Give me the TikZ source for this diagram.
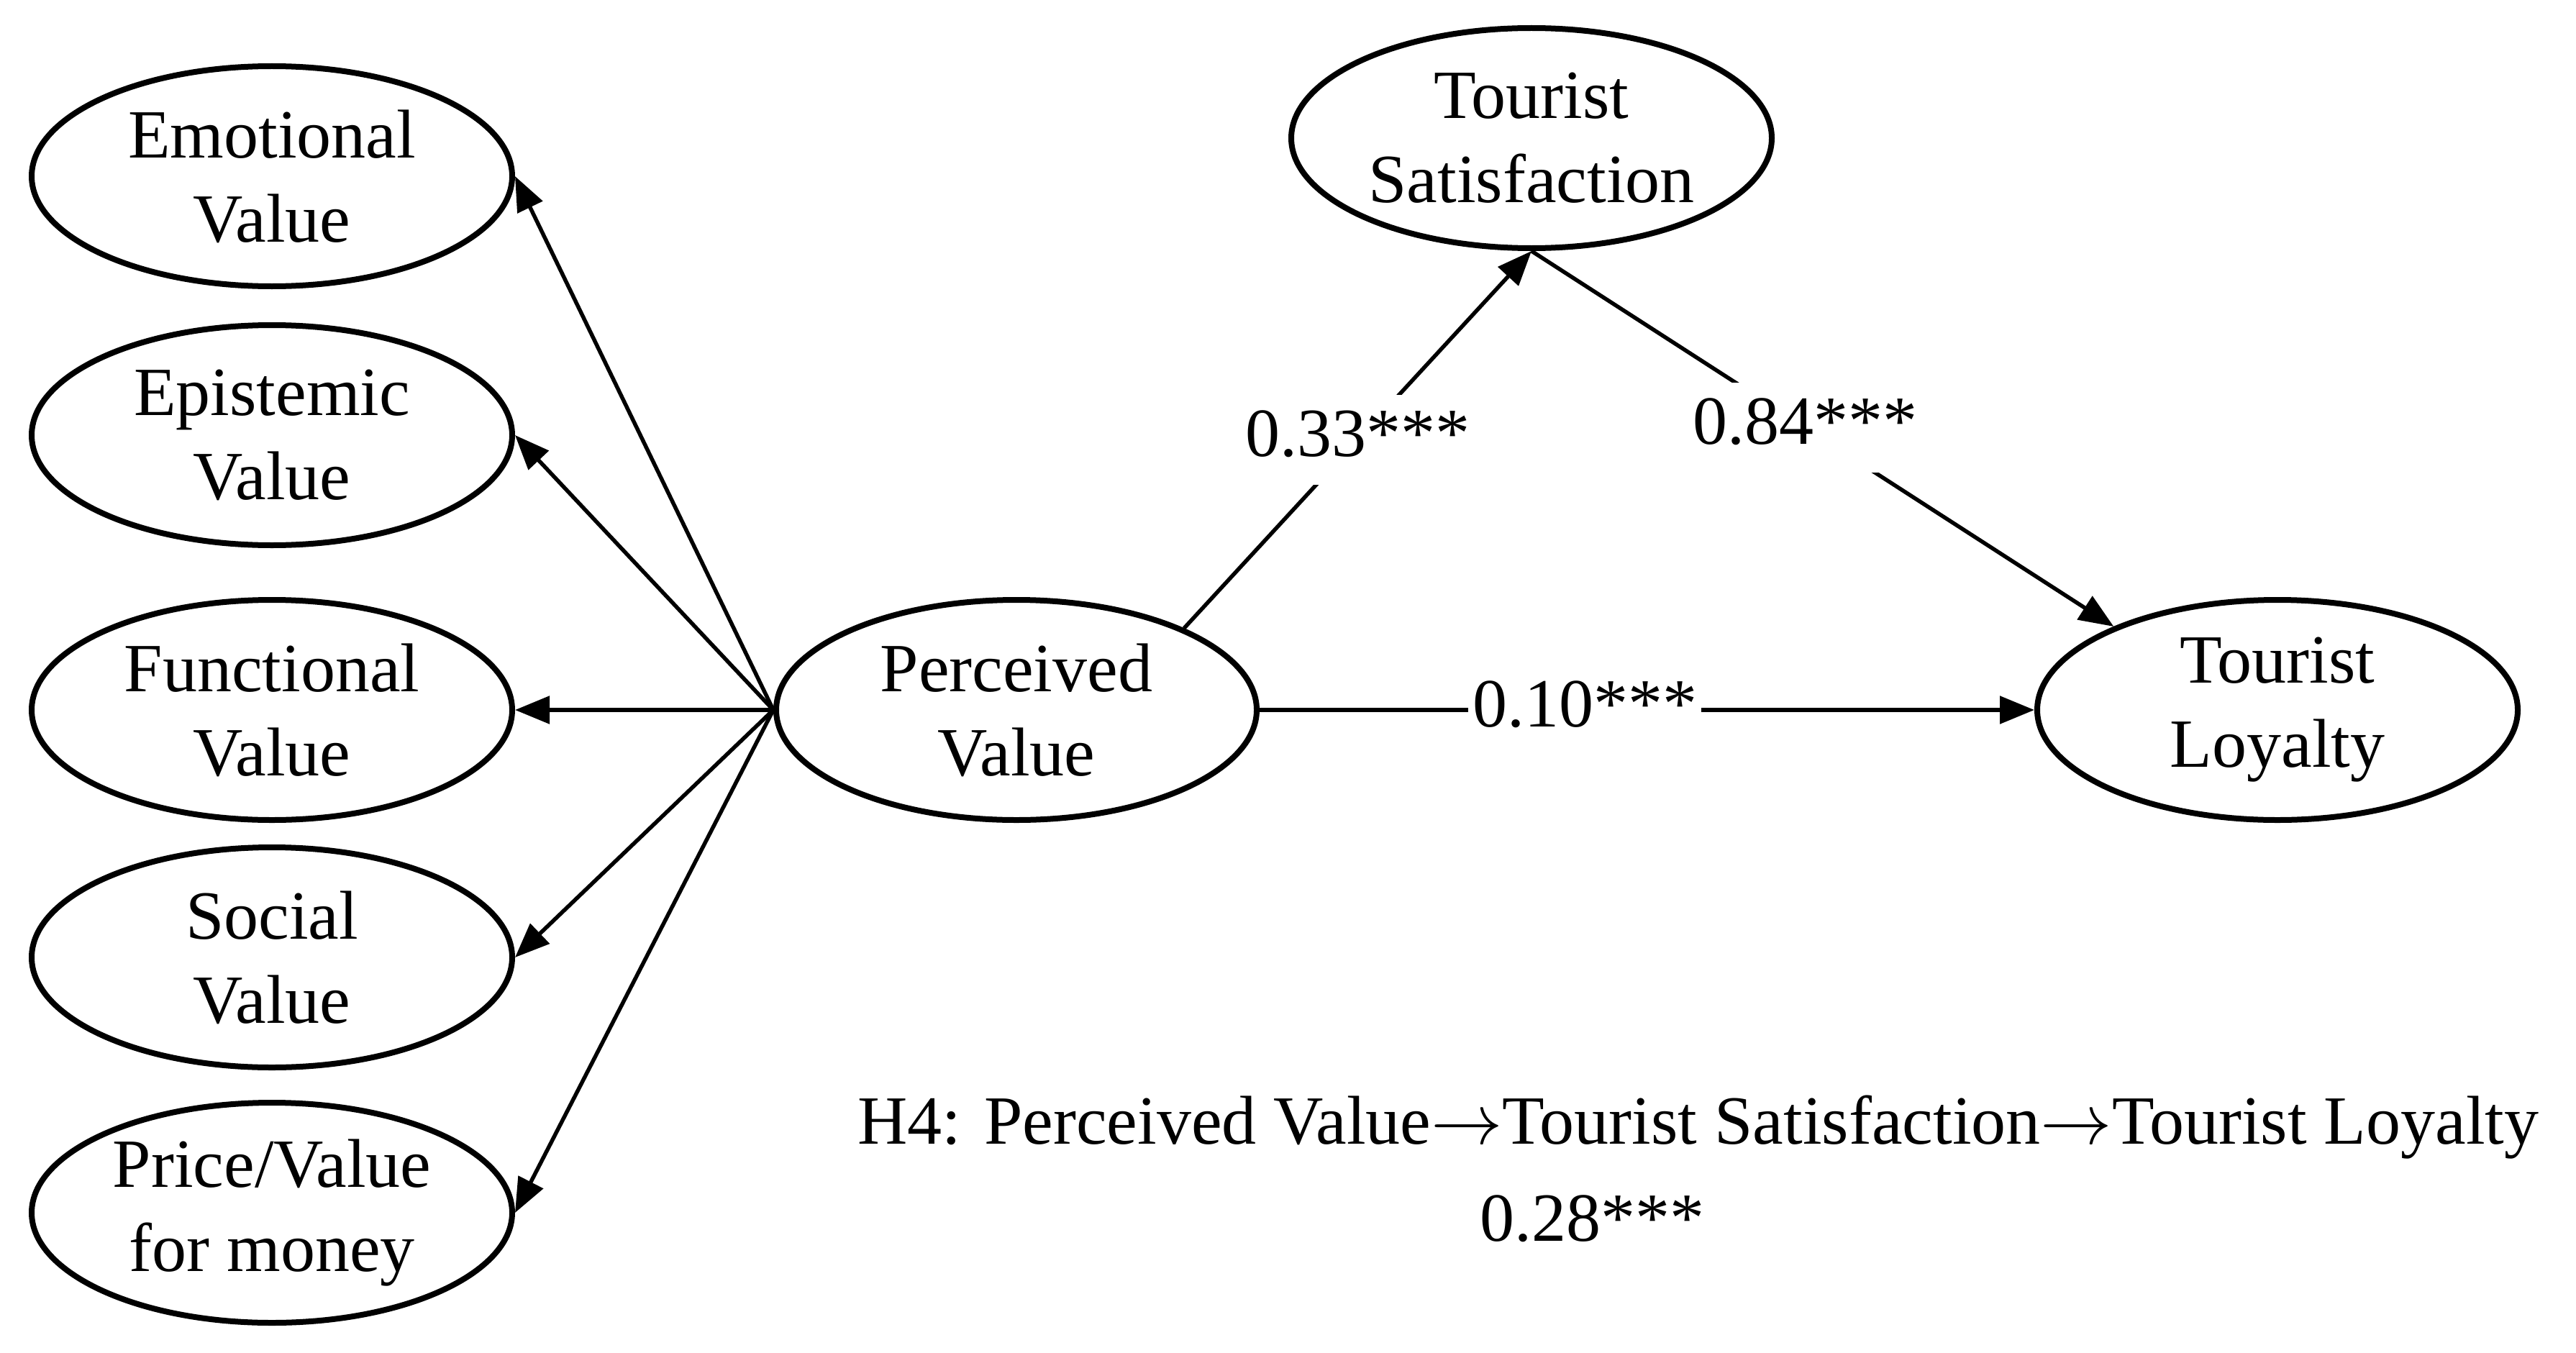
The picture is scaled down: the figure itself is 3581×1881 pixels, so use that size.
\documentclass[tikz,border=0pt]{standalone}
\usepackage{fontspec}
\setmainfont{Liberation Serif}
\usetikzlibrary{arrows.meta,shapes.geometric}
\newcommand{\myarr}{\mbox{\fontsize{24}{29}\selectfont\scalebox{4}{$\rightarrow$}}}
\begin{document}
\begin{tikzpicture}[x=1pt,y=-1pt,
  lat/.style={ellipse, draw, line width=8pt, minimum width=668pt, minimum height=306pt,
    inner sep=0pt, align=center, font=\fontsize{96}{117}\selectfont},
  conn/.style={line width=5.5pt, -{Triangle[length=48pt,width=38pt]}},
  lbl/.style={fill=white, inner sep=4pt, font=\fontsize{96}{117}\selectfont},
  txt/.style={inner sep=0pt, font=\fontsize{96}{117}\selectfont}]
\useasboundingbox (0,0) rectangle (3581,1881);
\node[lat] (emo) at (378,245) {Emotional\\Value};
\node[lat] (epi) at (378,605) {Epistemic\\Value};
\node[lat] (fun) at (378,987) {Functional\\Value};
\node[lat] (soc) at (378,1331) {Social\\Value};
\node[lat] (pri) at (378,1686) {Price/Value\\for money};
\node[lat] (pv) at (1413,987) {Perceived\\Value};
\node[lat] (ts) at (2129,192) {Tourist\\Satisfaction};
\node[lat] (tl) at (3166,987) {Tourist\\Loyalty};
\draw[conn] (pv.west) -- (emo.east);
\draw[conn] (pv.west) -- (epi.east);
\draw[conn] (pv.west) -- (fun.east);
\draw[conn] (pv.west) -- (soc.east);
\draw[conn] (pv.west) -- (pri.east);
\draw[conn] (pv.26) -- node[lbl, pos=0.5] {\strut 0.33***} (ts.south);
\draw[conn] (ts.south) -- node[lbl, pos=0.47] {\strut 0.84***} (tl.153);
\draw[conn] (pv.east) -- node[lbl, pos=0.42, inner xsep=6pt] {\strut 0.10***} (tl.west);
\node[txt, anchor=base west] (h4) at (1192,1590) {H4: Perceived Value\myarr Tourist Satisfaction\myarr Tourist Loyalty};
\node[txt, anchor=base] (ind) at (2213,1725) {0.28***};
\end{tikzpicture}
\end{document}
